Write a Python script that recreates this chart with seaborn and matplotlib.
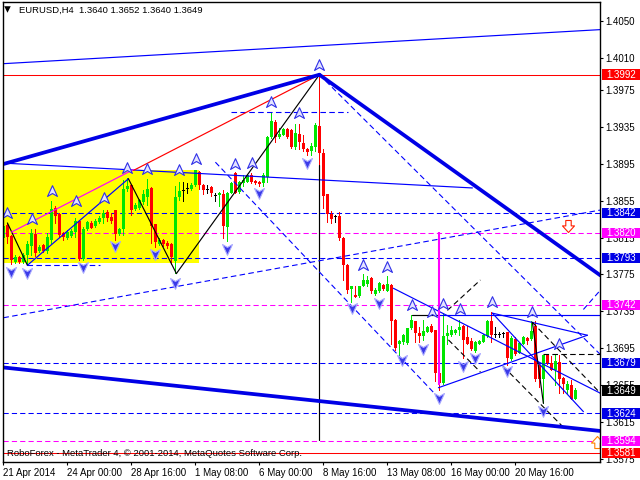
import numpy as np
import pandas as pd
import matplotlib
matplotlib.use("Agg")
import matplotlib.pyplot as plt
import seaborn as sns
from matplotlib.path import Path
from matplotlib.patches import Rectangle
from matplotlib.transforms import blended_transform_factory

opens = [1.3815,1.3829,1.3817,1.3789,1.3794,1.3789,1.3796,1.3806,1.3819,1.3800,1.3807,1.3801,1.3813,1.3847,1.3841,1.3820,1.3815,1.3817,1.3821,1.3833,1.3792,1.3824,1.3831,1.3828,1.3832,1.3836,1.3843,1.3837,1.3845,1.3819,
         1.3824,1.3868,1.3872,1.3846,1.3847,1.3854,1.3859,1.3869,1.3830,1.3808,1.3812,1.3809,1.3808,1.3790,1.3859,1.3866,1.3868,1.3868,1.3872,1.3886,1.3872,1.3867,1.3870,1.3860,1.3861,1.3862,1.3827,1.3864,1.3885,1.3865,
         1.3874,1.3876,1.3883,1.3877,1.3876,1.3874,1.3881,1.3924,1.3941,1.3924,1.3927,1.3933,1.3932,1.3913,1.3928,1.3918,1.3911,1.3909,1.3913,1.3936,1.3907,1.3862,1.3841,1.3837,1.3838,1.3815,1.3785,1.3759,1.3753,1.3752,
         1.3762,1.3765,1.3771,1.3754,1.3757,1.3764,1.3757,1.3764,1.3726,1.3700,1.3702,1.3701,1.3717,1.3725,1.3711,1.3708,1.3713,1.3719,1.3715,1.3668,1.3657,1.3708,1.3709,1.3711,1.3715,1.3719,1.3707,1.3703,1.3692,1.3700,
         1.3702,1.3708,1.3724,1.3709,1.3709,1.3710,1.3712,1.3683,1.3705,1.3690,1.3700,1.3706,1.3705,1.3719,1.3677,1.3661,1.3688,1.3679,1.3671,1.3680,1.3663,1.3650,1.3655,1.3640]
highs = [1.3830,1.3831,1.3818,1.3796,1.3795,1.3798,1.3811,1.3824,1.3824,1.3807,1.3808,1.3820,1.3855,1.3849,1.3842,1.3821,1.3823,1.3824,1.3836,1.3834,1.3827,1.3833,1.3833,1.3835,1.3838,1.3845,1.3845,1.3842,1.3845,1.3825,
         1.3878,1.3880,1.3873,1.3853,1.3857,1.3867,1.3879,1.3870,1.3830,1.3815,1.3814,1.3811,1.3809,1.3871,1.3876,1.3875,1.3874,1.3874,1.3889,1.3887,1.3873,1.3872,1.3871,1.3864,1.3865,1.3867,1.3865,1.3875,1.3886,1.3877,
         1.3883,1.3884,1.3885,1.3878,1.3877,1.3885,1.3925,1.3951,1.3943,1.3934,1.3934,1.3934,1.3933,1.3939,1.3939,1.3927,1.3912,1.3918,1.3940,1.3992,1.3911,1.3862,1.3844,1.3840,1.3843,1.3816,1.3786,1.3762,1.3762,1.3763,
         1.3775,1.3773,1.3772,1.3760,1.3767,1.3765,1.3773,1.3765,1.3727,1.3704,1.3710,1.3717,1.3731,1.3725,1.3718,1.3726,1.3719,1.3721,1.3715,1.3669,1.3733,1.3720,1.3719,1.3716,1.3726,1.3720,1.3719,1.3706,1.3703,1.3704,
         1.3710,1.3726,1.3734,1.3718,1.3713,1.3713,1.3712,1.3708,1.3707,1.3702,1.3708,1.3707,1.3724,1.3724,1.3680,1.3688,1.3689,1.3686,1.3688,1.3688,1.3664,1.3659,1.3660,1.3652]
lows = [1.3815,1.3809,1.3786,1.3788,1.3788,1.3788,1.3786,1.3796,1.3795,1.3799,1.3799,1.3798,1.3809,1.3831,1.3816,1.3813,1.3814,1.3816,1.3816,1.3791,1.3791,1.3823,1.3825,1.3827,1.3831,1.3831,1.3833,1.3831,1.3813,1.3818,
        1.3818,1.3866,1.3840,1.3845,1.3846,1.3852,1.3851,1.3809,1.3805,1.3807,1.3806,1.3804,1.3786,1.3777,1.3856,1.3855,1.3863,1.3867,1.3871,1.3868,1.3862,1.3863,1.3860,1.3855,1.3849,1.3815,1.3811,1.3863,1.3863,1.3864,
        1.3871,1.3875,1.3874,1.3873,1.3871,1.3871,1.3875,1.3923,1.3919,1.3923,1.3926,1.3923,1.3912,1.3911,1.3911,1.3909,1.3905,1.3905,1.3909,1.3894,1.3847,1.3832,1.3831,1.3832,1.3813,1.3769,1.3755,1.3745,1.3750,1.3750,
        1.3762,1.3762,1.3755,1.3753,1.3756,1.3758,1.3757,1.3699,1.3693,1.3688,1.3699,1.3699,1.3716,1.3702,1.3702,1.3704,1.3712,1.3712,1.3659,1.3650,1.3656,1.3700,1.3708,1.3710,1.3709,1.3684,1.3699,1.3693,1.3691,1.3699,
        1.3702,1.3707,1.3702,1.3707,1.3707,1.3707,1.3677,1.3682,1.3688,1.3690,1.3699,1.3700,1.3704,1.3659,1.3653,1.3635,1.3678,1.3671,1.3655,1.3646,1.3646,1.3646,1.3640,1.3640]
closes = [1.3828,1.3816,1.3791,1.3794,1.3789,1.3796,1.3808,1.3820,1.3798,1.3805,1.3801,1.3816,1.3846,1.3839,1.3818,1.3816,1.3821,1.3822,1.3833,1.3792,1.3824,1.3832,1.3826,1.3833,1.3836,1.3842,1.3836,1.3833,1.3819,1.3824,
          1.3868,1.3871,1.3845,1.3851,1.3856,1.3862,1.3868,1.3828,1.3810,1.3813,1.3808,1.3806,1.3794,1.3859,1.3866,1.3866,1.3868,1.3872,1.3888,1.3872,1.3867,1.3867,1.3863,1.3860,1.3864,1.3828,1.3864,1.3874,1.3864,1.3876,
          1.3878,1.3883,1.3875,1.3874,1.3873,1.3883,1.3924,1.3942,1.3924,1.3928,1.3933,1.3924,1.3913,1.3929,1.3919,1.3911,1.3908,1.3915,1.3937,1.3907,1.3860,1.3841,1.3835,1.3837,1.3815,1.3785,1.3758,1.3762,1.3751,1.3763,
          1.3769,1.3769,1.3757,1.3758,1.3766,1.3759,1.3765,1.3724,1.3695,1.3703,1.3709,1.3717,1.3726,1.3711,1.3708,1.3714,1.3718,1.3713,1.3668,1.3657,1.3708,1.3711,1.3715,1.3715,1.3718,1.3704,1.3700,1.3694,1.3702,1.3703,
          1.3709,1.3725,1.3709,1.3709,1.3709,1.3710,1.3684,1.3706,1.3689,1.3701,1.3707,1.3703,1.3714,1.3661,1.3662,1.3687,1.3679,1.3671,1.3681,1.3662,1.3656,1.3656,1.3640,1.3649]

tick_bars = [0,16,32,48,64,80,96,112,128]
tick_dates = ["21 Apr 2014","24 Apr 00:00","28 Apr 16:00","1 May 08:00","6 May 00:00","8 May 16:00","13 May 08:00","16 May 00:00","20 May 16:00"]
price_ticks = [1.4050,1.4010,1.3975,1.3935,1.3895,1.3855,1.3815,1.3775,1.3735,1.3695,1.3655,1.3615,1.3575]
price_tick_text = ["1.4050","1.4010","1.3975","1.3935","1.3895","1.3855","1.3815","1.3775","1.3735","1.3695","1.3655","1.3615","1.3575"]

level_prices = [1.3992,1.3842,1.3820,1.3793,1.3742,1.3679,1.3649,1.3624,1.3594,1.3581]
level_colors = ["#ff0000","#0000e6","#ff00ff","#0000e6","#ff00ff","#0000e6","#000000","#0000e6","#ff00ff","#ff0000"]

up_bar = [1,7.25,12.25,18.25,25.25,31,36,44,48.25,58,62.25,67,74,79,90,96,102.25,107.25,110,114.25,122.25,132.25,139]
up_px = [1.3842,1.3835,1.3866,1.3855,1.3858,1.3891,1.3890,1.3888,1.3900,1.3895,1.3896,1.3962,1.3950,1.4003,1.3785,1.3783,1.3742,1.3734,1.3743,1.3738,1.3745,1.3734,1.3699]
down_bar = [2,6,20,28,38,43,56,64,76,87.25,94,99.75,105,109,115,118,126,135]
down_px = [1.3778,1.3777,1.3783,1.3806,1.3797,1.3766,1.3803,1.3863,1.3896,1.3739,1.3744,1.3682,1.3694,1.3641,1.3676,1.3684,1.3670,1.3627]

BLUE = "#0000ff"
DASH = (0, (5, 3))
thick_lines = [([0,79],[1.3895,1.3992]), ([79,149.25],[1.3992,1.3774]), ([0,149.25],[1.3674,1.3605])]
thin_blue = [([0,149.25],[1.4004,1.4041]), ([0,117.25],[1.3896,1.3869]), ([6,31.25],[1.3785,1.3879]),
             ([97.5,149.25],[1.3760,1.3646]), ([108.5,149.25],[1.3731,1.3731]),
             ([122.25,146],[1.3733,1.3709]), ([108.75,146],[1.3652,1.3709]), ([122.25,145],[1.3733,1.3626])]
thin_black = [([1,6],[1.3831,1.3785]), ([31.25,43.25],[1.3879,1.3776]), ([43.25,79],[1.3776,1.3992]),
              ([79,79],[1.3894,1.3595]), ([102.25,108.5],[1.3731,1.3731]), ([132.25,135],[1.3723,1.3635])]
dashed_blue = [([0,149.25],[1.3728,1.3845]), ([53,109.25],[1.3897,1.3639]), ([79,149.25],[1.3992,1.3688]),
               ([145,149.25],[1.3737,1.3758]), ([57,86.25],[1.3951,1.3951]), ([6,24.25],[1.3785,1.3785])]
dashed_black = [([111.25,119.25],[1.3704,1.3669]), ([125,140],[1.3675,1.3609]), ([132.25,149.25],[1.3723,1.3646]),
                ([111,119.25],[1.3736,1.3769]), ([135,149.25],[1.3689,1.3689])]

sns.set_theme(style="white")
FS = 6.8
plt.rcParams["font.family"] = ["Liberation Sans", "DejaVu Sans"]
plt.rcParams["font.size"] = FS

W, H = 640, 480
fig = plt.figure(figsize=(6.4, 4.8), dpi=100, facecolor="white")
ax = fig.add_axes([3/W, (H-462)/H, 597/W, 460/H])
XLIM = (-0.1, 149.15)
YLIM = (1.35713, 1.4071)
ax.set_xlim(*XLIM)
ax.set_ylim(*YLIM)

ax.add_patch(Rectangle((-0.1, 1.3788), 49.1, 0.0100, color="#ffff00", lw=0, zorder=1))

df = pd.DataFrame({"o": opens, "h": highs, "l": lows, "c": closes})
df["bar"] = np.arange(len(df))
up = df[df.c > df.o]; dn = df[df.c < df.o]; dj = df[df.c == df.o]
for sub, col in ((up, "#00e600"), (dn, "#ff0000"), (dj, "#000000")):
    ax.vlines(sub.bar, sub.l, sub.h, color=col, lw=0.7, zorder=3, antialiased=False)
    ax.bar(sub.bar, (sub.c-sub.o).abs().clip(lower=0.00012), bottom=np.minimum(sub.o, sub.c),
           width=0.75, color=col, lw=0, zorder=3, antialiased=False)

THIN = 0.85
for p, c in zip(level_prices, level_colors):
    if p == 1.3649:
        continue
    if c == "#ff0000":
        ax.axhline(p, color=c, lw=0.75, zorder=2)
    else:
        line, = ax.plot(XLIM, [p, p], color="#0000ff" if c != "#ff00ff" else c, lw=0.75, ls=DASH, zorder=2)
        line.set_snap(True)

for xs, ys in thin_blue:
    ax.plot(xs, ys, color=BLUE, lw=THIN, zorder=4)
for xs, ys in thin_black:
    ax.plot(xs, ys, color="black", lw=THIN, zorder=4)
for xs, ys in dashed_blue:
    ax.plot(xs, ys, color="#0000ff", lw=0.8, ls=DASH, zorder=4)
for xs, ys in dashed_black:
    ax.plot(xs, ys, color="black", lw=0.8, ls=DASH, zorder=4)
for xs, ys in thick_lines:
    sns.lineplot(x=xs, y=ys, color="#0000e6", lw=2.7, ax=ax, estimator=None, sort=False, zorder=5, legend=False)
ax.plot([32.5,79],[1.3888,1.3992], color="#ff0000", lw=THIN, zorder=4)
ax.plot([2,32.5],[1.3821,1.3889], color="#ff00ff", lw=THIN, zorder=4)
ax.plot([109,109],[1.3821,1.3655], color="#ff00ff", lw=1.5, zorder=4, solid_capstyle="butt")

up_arrow = Path([(0,1),(0.85,-0.85),(0,-0.35),(-0.85,-0.85),(0,1)], closed=True)
down_arrow = Path([(0,-1),(0.85,0.85),(0,0.35),(-0.85,0.85),(0,-1)], closed=True)
sns.scatterplot(x=up_bar, y=up_px, marker=up_arrow, s=70, color="#e4e4ff", edgecolor="#3030e8", linewidth=0.8, ax=ax, zorder=6, legend=False)
sns.scatterplot(x=down_bar, y=down_px, marker=down_arrow, s=70, color="#3a3ae8", edgecolor="#a8a8ff", linewidth=0.8, ax=ax, zorder=6, legend=False)

hollow_down = Path([(-0.45,1),(0.45,1),(0.45,0.1),(1,0.1),(0,-1),(-1,0.1),(-0.45,0.1),(-0.45,1)], closed=True)
hollow_up = Path([(-0.45,-1),(0.45,-1),(0.45,-0.1),(1,-0.1),(0,1),(-1,-0.1),(-0.45,-0.1),(-0.45,-1)], closed=True)
sns.scatterplot(x=[141.25], y=[1.3828], marker=hollow_down, s=75, color="#ffffff", edgecolor="#ff2000", linewidth=0.8, ax=ax, zorder=6, legend=False)
sns.scatterplot(x=[148.5], y=[1.3593], marker=hollow_up, s=75, color="#ffffff", edgecolor="#ff8000", linewidth=0.8, ax=ax, zorder=6, legend=False)

for s in ax.spines.values():
    s.set_color("black"); s.set_linewidth(1.0); s.set_zorder(10)
ax.yaxis.tick_right()
ax.set_yticks(price_ticks)
ax.set_yticklabels(price_tick_text)
ax.set_xticks(tick_bars)
ax.set_xticklabels(tick_dates, ha="left")
ax.tick_params(axis="y", length=2.5, width=0.8, color="black", labelsize=FS+0.2, labelcolor="black", pad=1.2, right=True, left=False)
ax.tick_params(axis="x", length=2.5, width=0.8, color="black", labelsize=FS+0.2, labelcolor="black", pad=2, bottom=True)
ax.set_xlabel(""); ax.set_ylabel("")
ax.grid(False)

tf = blended_transform_factory(ax.transAxes, ax.transData)
box_h = 0.00115
for p, c in zip(level_prices, level_colors):
    ax.add_patch(Rectangle((1.0034, p-box_h/2), 0.0636, box_h, transform=tf, facecolor=c, lw=0, clip_on=False, zorder=20))
    ax.text(1.0352, p-0.00002, f"{p:.4f}", transform=tf, color="white", ha="center", va="center", fontsize=FS+0.2, zorder=21, clip_on=False)

ax.text(0.0267, 0.9825, "EURUSD,H4  1.3640 1.3652 1.3640 1.3649", transform=ax.transAxes, color="black", fontsize=FS, va="center", ha="left", zorder=12)
sns.scatterplot(x=[1.0], y=[1.4063], marker="v", s=22, color="black", linewidth=0, ax=ax, zorder=12, legend=False)
ax.text(0.0067, 0.0175, "RoboForex - MetaTrader 4, \u00a9 2001-2014, MetaQuotes Software Corp.", transform=ax.transAxes, color="black", fontsize=FS, va="center", ha="left", zorder=12)

ax.set_xlim(*XLIM)
ax.set_ylim(*YLIM)
fig.savefig("out.png", dpi=100)
